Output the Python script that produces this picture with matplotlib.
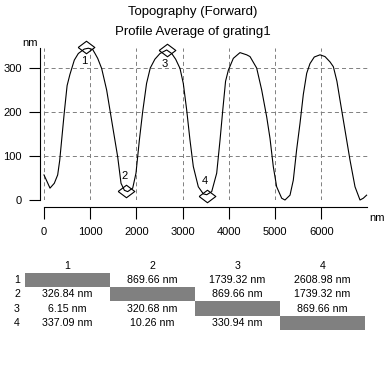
import numpy as np
from matplotlib import pyplot as plt

plt.rcParams['font.family'] = ['Liberation Sans', 'DejaVu Sans']
plt.rcParams['lines.scale_dashes'] = False

# profile (nm along scan, height nm)
prof_x = [0, 130, 223, 296, 340, 440, 500, 560, 656, 743, 870, 960, 1054, 1104,
          1162, 1248, 1356, 1486, 1595, 1667, 1740, 1811, 1920, 1991, 2064, 2135,
          2220, 2300, 2400, 2511, 2655, 2764, 2850, 2944, 3015, 3088, 3160, 3232,
          3340, 3448, 3522, 3630, 3738, 3810, 3870, 3930, 3990, 4098, 4242, 4387,
          4459, 4603, 4712, 4820, 4892, 4963, 5036, 5145, 5216, 5325, 5396, 5468,
          5541, 5613, 5686, 5757, 5850, 5974, 6082, 6190, 6263, 6340, 6407, 6515,
          6623, 6732, 6840, 6911, 6983]
prof_y = [57, 27, 38, 57, 90, 200, 260, 285, 318, 333, 343, 345, 342, 333,
          322, 299, 250, 167, 98, 38, 22, 19, 27, 61, 136, 200,
          265, 300, 320, 333, 341, 333, 320, 299, 265, 205, 136, 76,
          30, 14, 12, 19, 61, 136, 205, 270, 295, 322, 335, 330,
          326, 300, 250, 189, 140, 76, 30, 4, 0, 11, 45, 114,
          174, 240, 288, 310, 325, 330, 326, 314, 303, 270, 227, 159,
          91, 30, 0, 4, 11]

# cursors
mark_ids = ['1', '2', '3', '4']
mark_x = [915, 1784.66, 2654.32, 3523.98]
mark_y = [347.0, 20.16, 340.85, 9.91]

# distance table: upper = horizontal, lower = vertical (nm)
tab_cols = ['1', '2', '3', '4']
tab_rows = ['1', '2', '3', '4']
row1 = [None, 869.66, 1739.32, 2608.98]
row2 = [326.84, None, 869.66, 1739.32]
row3 = [6.15, 320.68, None, 869.66]
row4 = [337.09, 10.26, 330.94, None]

W, H = 387, 382
fig = plt.figure(figsize=(W/100, H/100), dpi=100)

def box(l, t, r, b):
    return [l/W, 1-b/H, (r-l)/W, (b-t)/H]

ax = fig.add_axes(box(44, 48, 368, 200))
ax.plot(prof_x, prof_y, color='black', lw=0.8, clip_on=False)
diamond = [(-1, 0), (0, 0.75), (1, 0), (0, -0.75), (-1, 0)]
ax.plot(mark_x, mark_y, marker=diamond, ls='none', ms=12, mfc='none',
        mec='black', mew=0.8, clip_on=False)
for i, (mx, my) in enumerate(zip(mark_x, mark_y)):
    dy = -14 if my > 150 else 15
    ax.annotate(mark_ids[i], (mx, my), xytext=(-2, dy), textcoords='offset pixels',
                ha='center', va='center', fontsize=8, annotation_clip=False)

ax.set_xlim(0, 7013)
ax.set_ylim(0, 345.5)
ax.set_xticks(range(0, 7000, 1000))
ax.set_yticks([0, 100, 200, 300])
ax.set_yticklabels(['0', '100', '200', '300'], rotation=90, va='center')
ax.tick_params(axis='x', direction='out', length=8.6, width=0.8, pad=6,
               labelsize=8)
ax.tick_params(axis='y', direction='out', length=8, width=0.8, pad=5,
               labelsize=8)
for s in ['top', 'right']:
    ax.spines[s].set_visible(False)
ax.spines['left'].set_position(('outward', 2.9))
ax.spines['bottom'].set_position(('outward', 5))
ax.spines['bottom'].set_bounds(0, 6990)
ax.spines['left'].set_linewidth(0.8)
ax.spines['bottom'].set_linewidth(0.8)
ax.grid(True, color='#808080', lw=0.7, linestyle=(0, (2.9, 2.2)))
ax.get_ygridlines()[0].set_visible(False)
ax.set_axisbelow(True)

fig.text(30/W, 1-43/H, 'nm', ha='center', va='center', fontsize=8)
fig.text(377/W, 1-218/H, 'nm', ha='center', va='center', fontsize=8)
fig.text(193/W, 1-12/H, 'Topography (Forward)', ha='center', va='center',
         fontsize=9.5)
fig.text(193/W, 1-32/H, 'Profile Average of grating1', ha='center',
         va='center', fontsize=9.5)

# table
tx = fig.add_axes(box(25, 258.9, 365, 329.9))
tx.set_xlim(0, 4)
tx.set_ylim(4.5, -0.5)
tx.axis('off')
rows = [row1, row2, row3, row4]
diag = [r.index(None) for r in rows]
tx.barh(np.arange(1, 5), 1, left=diag, height=1, align='center',
        color='#808080')
for j, c in enumerate(tab_cols):
    tx.text(j + 0.5, 0, c, ha='center', va='center', fontsize=7.7)
for i, r in enumerate(rows):
    tx.text(-0.094, i + 1, tab_rows[i], ha='center', va='center', fontsize=7.7,
            clip_on=False)
    for j, v in enumerate(r):
        if v is not None:
            tx.text(j + 0.5, i + 1, f'{v:.2f} nm', ha='center', va='center',
                    fontsize=7.7)

fig.savefig('out.png', dpi=100)
